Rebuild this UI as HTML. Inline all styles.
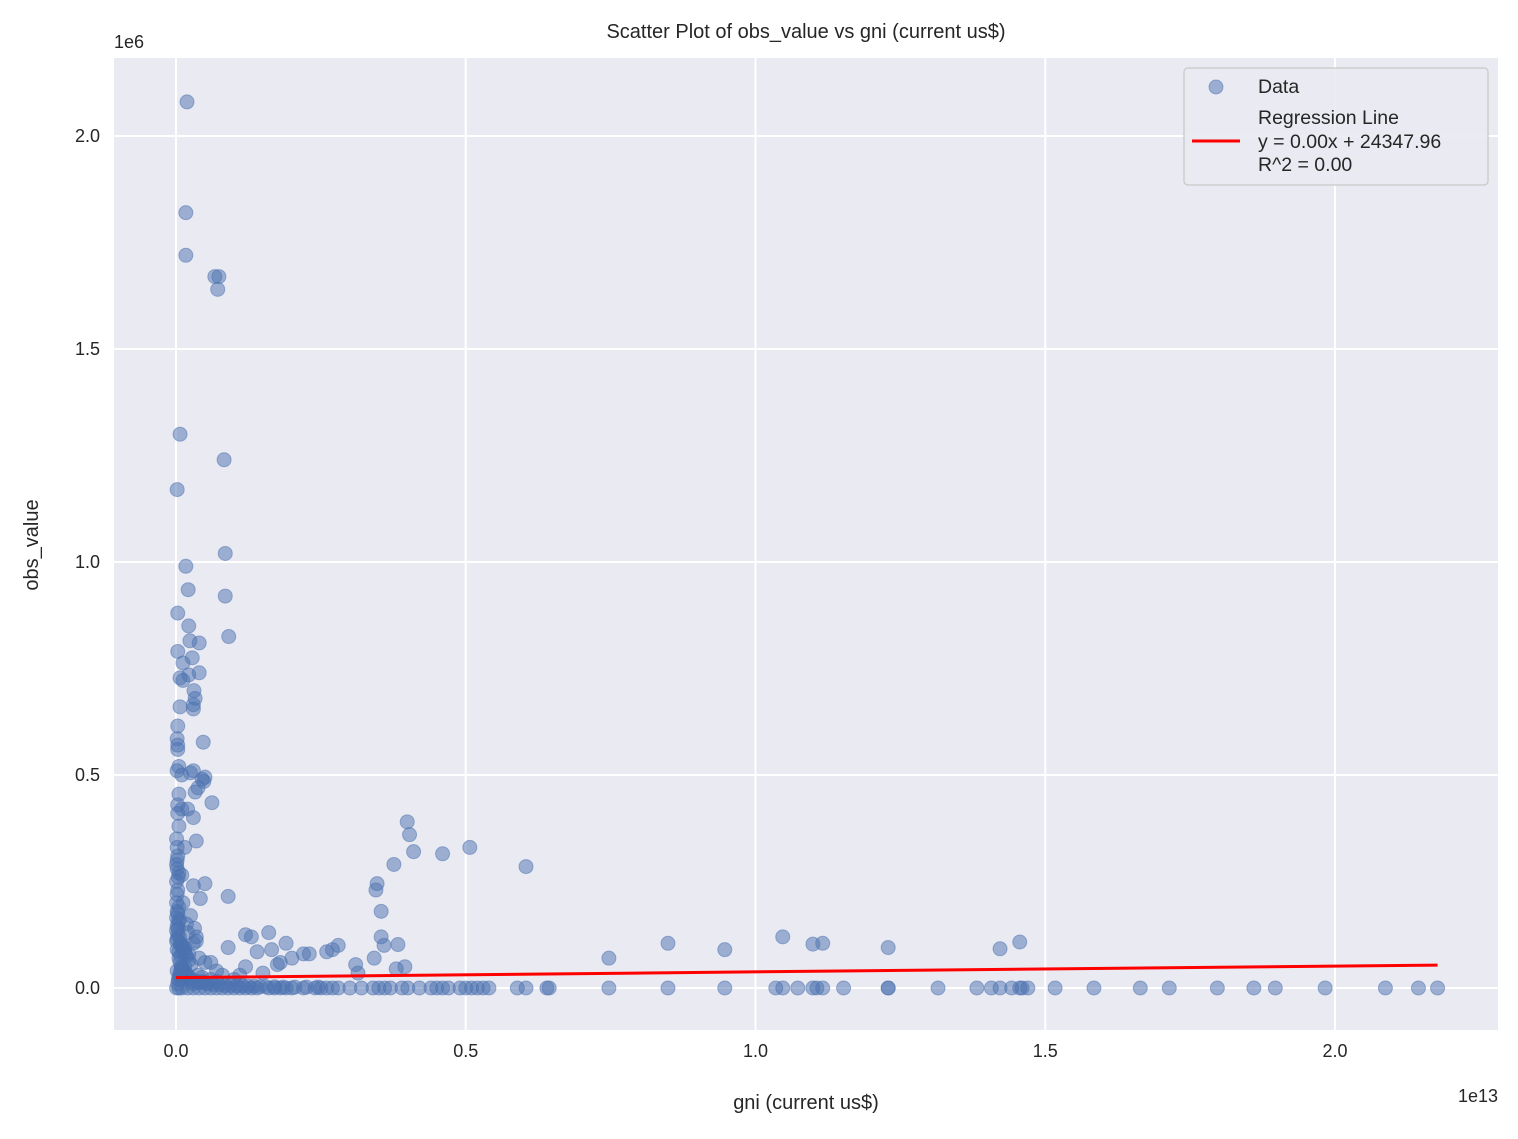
<!DOCTYPE html>
<html><head><meta charset="utf-8">
<style>
body{margin:0;background:#fff;font-family:"Liberation Sans","DejaVu Sans",sans-serif;}
svg text{font-family:"Liberation Sans","DejaVu Sans",sans-serif;fill:#262626;}
</style></head>
<body>
<svg id="chart" width="1518" height="1134" xmlns="http://www.w3.org/2000/svg">
<rect width="1518" height="1134" fill="#fff"/>
<rect x="114" y="58" width="1384" height="972" fill="#eaeaf2"/>
<g id="grid"></g>
<g id="ticks"></g>
<g id="points"></g>
<g id="reg"></g>
<text x="806" y="38" font-size="20" text-anchor="middle">Scatter Plot of obs_value vs gni (current us$)</text>
<text x="806" y="1109" font-size="20" text-anchor="middle">gni (current us$)</text>
<text transform="translate(38,545) rotate(-90)" font-size="20" text-anchor="middle">obs_value</text>
<text x="1498" y="1102" font-size="18" text-anchor="end">1e13</text>
<text x="114" y="48" font-size="18">1e6</text>
<g>
<rect x="1184" y="68" width="304" height="117" rx="4" fill="#eaeaf2" stroke="#cccccc" stroke-width="1.5" opacity="0.9"/>
<circle cx="1216" cy="87" r="7" fill="#4c72b0" fill-opacity="0.5" stroke="#4c72b0" stroke-opacity="0.5"/>
<text x="1258" y="93" font-size="19.5">Data</text>
<line x1="1192" y1="141" x2="1240" y2="141" stroke="#ff0000" stroke-width="3"/>
<text x="1258" y="124" font-size="19.5">Regression Line</text>
<text x="1258" y="148" font-size="19.5">y = 0.00x + 24347.96</text>
<text x="1258" y="171" font-size="19.5">R^2 = 0.00</text>
</g>
</svg>
<script>
const xTicks=[0,0.5,1.0,1.5,2.0];
const xTickLabels=["0.0","0.5","1.0","1.5","2.0"];
const yTicks=[0,0.5,1.0,1.5,2.0];
const yTickLabels=["0.0","0.5","1.0","1.5","2.0"];
// gni in 1e12, obs in 1e3
const gni=[0.19,0.17,0.17,0.67,0.74,0.72,0.07,0.83,0.02,0.85,0.17,0.21,0.85,0.91,0.03,0.22,0.40,0.24,0.03,0.12,0.28,0.40,0.22,0.07,0.12,0.31,0.33,0.30,0.30,0.07,0.47,0.03,0.02,0.03,0.03,0.05,0.02,0.1,0.25,0.3,0.45,0.5,0.48,0.38,0.33,0.05,0.62,0.03,0.1,0.3,0.2,0.03,0.05,0.35,0.5,0.15,0.9,0.02,0.05,0.1,0.3,0.42,0.12,0.25,0.06,0.18,0.04,0.2,0.5,0.35,0.1,0.02,0.15,0.3,0.05,0.22,0.08,0.4,0.6,0.15,0.02,0.8,0.1,0.45,0.3,
3.99,4.03,4.10,4.60,5.07,6.04,3.76,3.47,3.45,3.54,3.54,3.59,3.83,3.95,3.80,3.42,3.10,3.14,
7.47,8.49,9.47,10.47,10.99,11.16,12.29,14.22,14.56,
1.2,1.3,1.6,1.65,1.9,2.2,2.6,2.7,2.8,1.4,1.8,1.75,1.1,1.0,2.0,2.3,1.5,0.9,1.2,0.7,
7.47,8.49,9.47,10.35,10.47,10.73,10.99,11.06,11.16,11.52,12.29,12.29,13.15,13.82,14.07,14.22,14.42,14.56,14.60,14.70,15.17,15.84,16.64,17.14,17.97,18.60,18.97,19.83,20.87,21.44,21.77,
5.89,6.04,6.4,6.44,4.4,4.5,4.6,4.7,4.9,5.0,5.1,5.2,5.3,5.4,3.5,3.6,3.7,3.9,4.0,4.2,3.2,3.0,2.8,2.6,2.4,2.2,2.0,1.8,1.6,1.4,1.2,1.0,0.8,0.6,0.4,0.2,0.1,0.05,0.01,2.5,2.7,1.9,1.7,1.3,3.4,0.3,0.5,0.7,0.9,1.1,
0.01,0.02,0.03,0.01,0.02,0.04,0.01,0.03,0.02,0.01,0.05,0.02,0.03,0.01,0.04,0.02,0.01,0.03,0.06,0.02,0.01,0.08,0.12,0.15,0.18,0.22,0.26,0.1,0.14,0.2,0.25,0.32,0.35,0.08,0.12,0.16,0.05,0.07,0.09,0.11,0.13,0.17,0.19,0.23,0.28,0.36,0.42,0.55,0.65,0.75,0.85,0.95,1.05,1.15,1.25,1.35,1.45,1.55,1.7,1.85,2.05,2.25,2.45,0.6,0.7,0.45,0.38,0.52,0.04,0.06,0.08,0.03,0.05,0.07,0.09];
const obs=[2080,1820,1720,1670,1670,1640,1300,1240,1170,1020,990,935,920,825,880,850,810,815,790,763,775,740,735,728,722,698,680,665,655,660,577,615,585,570,560,520,510,500,505,510,490,495,485,470,460,455,435,430,420,400,420,410,380,345,245,330,215,300,270,265,240,210,200,170,160,150,140,130,60,110,100,90,95,105,85,80,75,70,60,50,40,30,20,15,10,
390,360,320,315,330,285,290,245,230,180,120,100,102,50,45,70,55,35,
70,105,90,120,103,105,95,92,108,
125,120,130,90,105,80,85,90,100,85,60,55,30,20,70,80,35,95,50,40,
0,0,0,0,0,0,0,0,0,0,0,0,0,0,0,0,0,0,0,0,0,0,0,0,0,0,0,0,0,0,0,
0,0,0,0,0,0,0,0,0,0,0,0,0,0,0,0,0,0,0,0,0,0,0,0,0,0,0,0,0,0,0,0,0,0,0,0,0,0,0,0,0,0,0,0,0,0,0,0,0,0,
350,330,310,290,280,260,250,230,220,200,190,180,175,165,155,145,135,125,120,115,110,105,95,85,75,65,55,45,35,25,15,140,120,100,90,80,70,60,50,45,40,35,30,25,20,15,12,10,8,8,6,6,5,5,4,4,3,3,3,2,2,2,2,20,15,25,30,12,20,30,40,10,20,30,40];
const regIntercept=24.34796; // 1e3
const regSlope=1.35; // 1e3 per 1e12
const regXRange=[0,21.77];
const NS="http://www.w3.org/2000/svg";
function xs(v){return 176+v*57.95;}
function ys(v){return 988-v*0.426;}
function mk(t,a,p){const e=document.createElementNS(NS,t);for(const k in a)e.setAttribute(k,a[k]);p.appendChild(e);return e;}
const grid=document.getElementById('grid'),ticks=document.getElementById('ticks');
xTicks.forEach((t,i)=>{const x=xs(t*10);
 const l=mk('line',{x1:x,x2:x,y1:58,y2:1030,stroke:'#fff','stroke-width':2},grid);
 
 
 const tx=mk('text',{x:x,y:1057,'font-size':18,'text-anchor':'middle'},ticks);tx.textContent=xTickLabels[i];
 
 
});
yTicks.forEach((t,i)=>{const y=ys(t*1000);
 const l=mk('line',{x1:114,x2:1498,y1:y,y2:y,stroke:'#fff','stroke-width':2},grid);
 
 
 const tx=mk('text',{x:100,y:y+6,'font-size':18,'text-anchor':'end'},ticks);tx.textContent=yTickLabels[i];
 
 
});
const pts=document.getElementById('points');
for(let i=0;i<gni.length;i++){
 const c=mk('circle',{cx:xs(gni[i]),cy:ys(obs[i]),r:7,fill:'#4c72b0','fill-opacity':0.5,stroke:'#4c72b0','stroke-opacity':0.5},pts);
 
 
}
const rl=mk('line',{x1:xs(regXRange[0]),y1:ys(regIntercept+regSlope*regXRange[0]),x2:xs(regXRange[1]),y2:ys(regIntercept+regSlope*regXRange[1]),stroke:'#ff0000','stroke-width':3},document.getElementById('reg'));


</script>
</body></html>
